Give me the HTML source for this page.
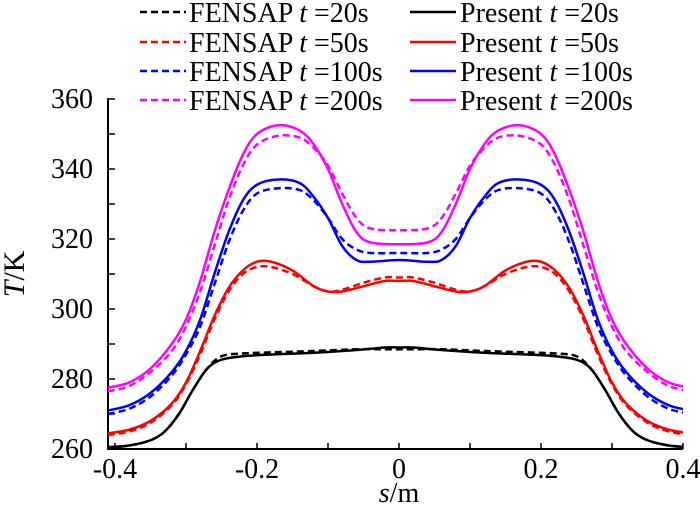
<!DOCTYPE html>
<html><head><meta charset="utf-8"><style>
body{margin:0;background:#fff}
svg{display:block;font-family:"Liberation Serif",serif}
</style></head><body>
<svg id="chart" width="700" height="505" viewBox="0 0 700 505">
<g id="legend"></g>
<g id="axes"></g>
<g id="plot"></g>
</svg>
<script>
// half-profile data (s <= 0), mirrored about s=0
const sP200=[-0.41,-0.38,-0.35,-0.32,-0.30,-0.28,-0.26,-0.24,-0.22,-0.20,-0.17,-0.14,-0.12,-0.10,-0.08,-0.06,-0.04,0];
const present200=[277.5,279,283,290,297,308,322,334,344,350,352.5,351,347,340,330,322,319,318.5];
const fensap200=[276.5,278,282,288,295,305,318,331,341,347,349.5,349,346,341,333,326,323,322.5];
const present100=[271,272.5,276,282,288,297,310,322,331,335.5,337,336,332,326,318,314,313.5,314];
const fensap100=[270,271.5,275,281,287,295,307,319,328,333,334.5,334,331,326,320,317,316,316];
const s50=[-0.41,-0.38,-0.35,-0.32,-0.30,-0.28,-0.26,-0.24,-0.22,-0.20,-0.18,-0.15,-0.12,-0.10,-0.08,-0.05,-0.02,0];
const present50=[264.5,265.5,268,273,279,288,298,306,311,313.5,313.5,311,306.5,305,305,306.5,308,308];
const fensap50=[264,265,267.5,272.5,278.5,287,297,305,310,312,312,310,306.5,305,305.5,307.5,309,309];
const s20=[-0.41,-0.38,-0.35,-0.33,-0.31,-0.29,-0.27,-0.25,-0.22,-0.18,-0.12,-0.06,-0.02,0];
const present20=[260.5,261,262.5,265,270,277,283,285.5,286.5,287,287.5,288.3,289,289];
const fensap20=[260.5,261,262.5,265,270,277,283,286.5,287.3,287.6,288,288.5,288.5,288.5];
const xTicks=[-0.4,-0.2,0,0.2,0.4];
const xTickLabels=["-0.4","-0.2","0","0.2","0.4"];
const yTicks=[260,280,300,320,340,360];
const yTickLabels=["260","280","300","320","340","360"];

const X0=115,X1=683,Y0=449,Y1=99;
const xs=v=>X0+(v+0.4)/0.8*(X1-X0);
const ys=v=>Y0-(v-260)/100*(Y0-Y1);
const NS="http://www.w3.org/2000/svg";
function mk(tag,attrs,parent){const e=document.createElementNS(NS,tag);for(const k in attrs)e.setAttribute(k,attrs[k]);parent.appendChild(e);return e;}
function path(pts){let d=`M${pts[0][0]},${pts[0][1]}`;for(let i=0;i<pts.length-1;i++){const p0=pts[Math.max(0,i-1)],p1=pts[i],p2=pts[i+1],p3=pts[Math.min(pts.length-1,i+2)];
d+=`C${p1[0]+(p2[0]-p0[0])/6},${p1[1]+(p2[1]-p0[1])/6} ${p2[0]-(p3[0]-p1[0])/6},${p2[1]-(p3[1]-p1[1])/6} ${p2[0]},${p2[1]}`;}return d;}
function full(s,v){const pts=s.map((x,i)=>[xs(x),ys(v[i])]);for(let i=s.length-2;i>=0;i--)pts.push([xs(-s[i]),ys(v[i])]);return pts;}
const defs=mk('defs',{},document.getElementById('chart'));
const cp=mk('clipPath',{id:'clip'},defs);
mk('rect',{x:108,y:0,width:X1-108,height:Y0},cp);
const plot=document.getElementById('plot');
plot.setAttribute('clip-path','url(#clip)');
const series=[["fensap-20s",s20,fensap20,"#000",true],["present-20s",s20,present20,"#000",false],
["fensap-50s",s50,fensap50,"#f00",true],["present-50s",s50,present50,"#f00",false],
["fensap-100s",sP200,fensap100,"#00f",true],["present-100s",sP200,present100,"#00f",false],
["fensap-200s",sP200,fensap200,"#f0f",true],["present-200s",sP200,present200,"#f0f",false]];
series.forEach(([n,s,v,c,dash])=>{
 const p=mk('path',{d:path(full(s,v)),fill:'none',stroke:c,'stroke-width':2.5},plot);
 if(dash)p.setAttribute('stroke-dasharray','7,4');
 
 
});
const axes=document.getElementById('axes');
mk('path',{d:`M108,${Y1-1}V${Y0}H${X1}`,fill:'none',stroke:'#000','stroke-width':2},axes);
for(let k=-4;k<=4;k++){const v=k/10;const x=xs(v);mk('line',{x1:x,x2:x,y1:Y0,y2:Y0-6,stroke:'#000','stroke-width':1.5},axes);}
for(let v=260;v<=360;v+=10){const y=ys(v);mk('line',{x1:108,x2:115,y1:y,y2:y,stroke:'#000','stroke-width':1.5},axes);}
xTicks.forEach((v,i)=>{const t=mk('text',{x:xs(v),y:478,'text-anchor':'middle','font-size':28},axes);t.textContent=xTickLabels[i];

});
yTicks.forEach((v,i)=>{const t=mk('text',{x:93,y:ys(v)+9,'text-anchor':'end','font-size':28},axes);t.textContent=yTickLabels[i];

});
const xt=mk('text',{x:399,y:502,'text-anchor':'middle','font-size':28},axes);xt.innerHTML='<tspan font-style="italic">s</tspan>/m';


const yt=mk('text',{x:0,y:0,'text-anchor':'middle','font-size':30,transform:'translate(24,274) rotate(-90)'},axes);yt.innerHTML='<tspan font-style="italic">T</tspan>/K';


// legend
const lg=document.getElementById('legend');
const legCols=[["#000","20s"],["#f00","50s"],["#00f","100s"],["#f0f","200s"]];
const rowY=[12,42,71,100];
legCols.forEach(([c,t],i)=>{
 const y=rowY[i];
 const d=mk('line',{x1:140,x2:186,y1:y,y2:y,stroke:c,'stroke-width':2.5,'stroke-dasharray':'7,4'},lg);
 
 
 const a=mk('text',{x:189,y:y+10,'font-size':28},lg);a.innerHTML='FENSAP <tspan font-style="italic">t</tspan> =' + t;
 
 
 const l=mk('line',{x1:410,x2:456,y1:y,y2:y,stroke:c,'stroke-width':2.5},lg);
 
 
 const b=mk('text',{x:460,y:y+10,'font-size':28},lg);b.innerHTML='Present <tspan font-style="italic">t</tspan> =' + t;
 
 
});
</script>
</body></html>
